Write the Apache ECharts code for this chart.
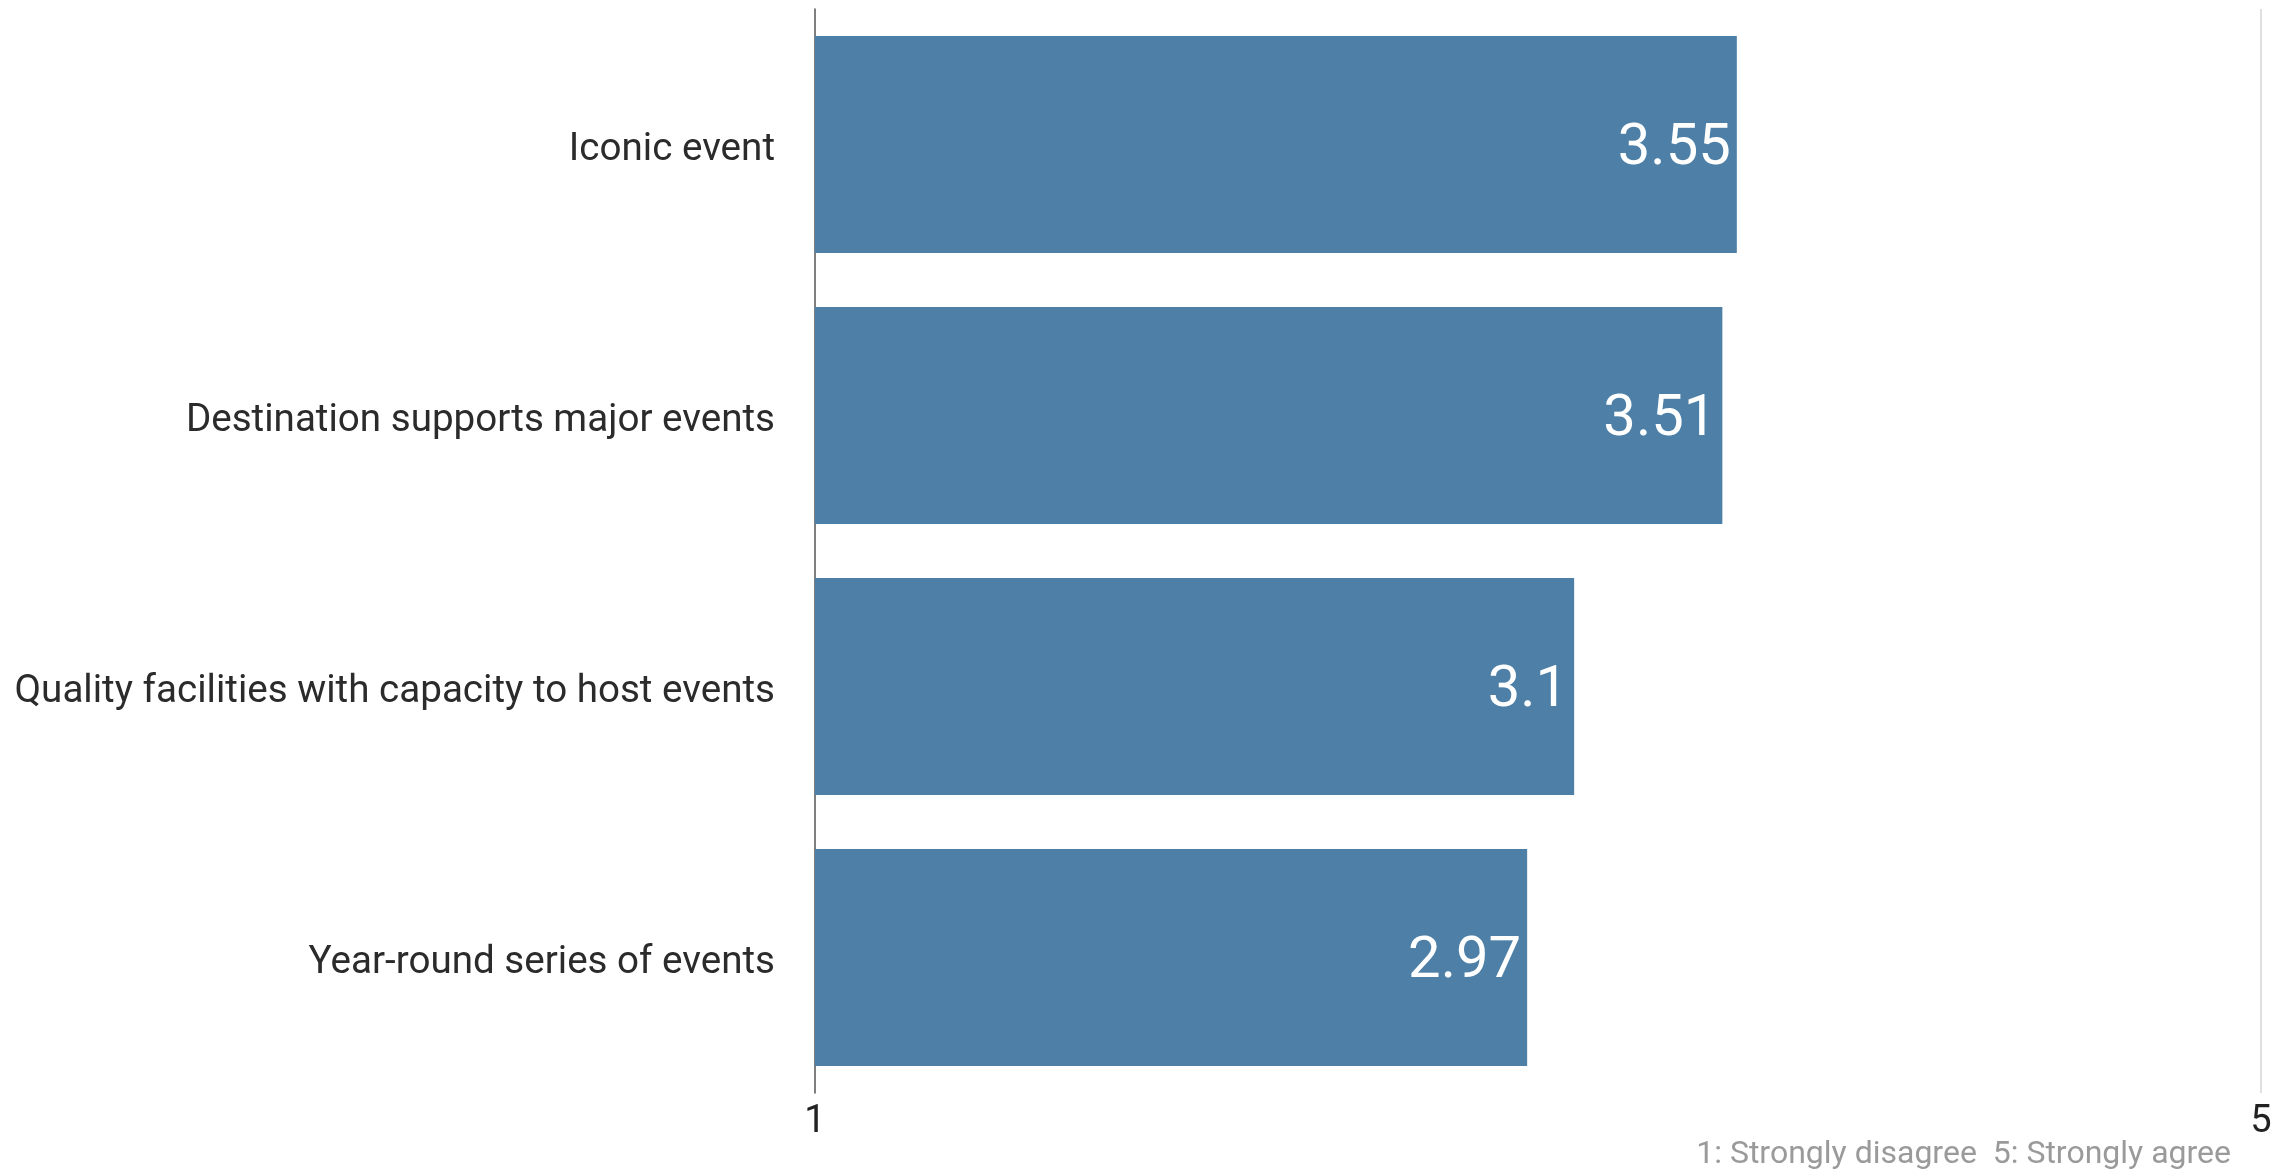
<!DOCTYPE html>
<html>
<head>
<meta charset="utf-8">
<script src="https://cdn.jsdelivr.net/npm/echarts@6/dist/echarts.min.js"></script>
<style>
  html, body { margin: 0; padding: 0; background: #ffffff; }
  #chart { width: 2289px; height: 1169px; }
</style>
</head>
<body>
<div id="chart"></div>
<script>
// Agreement scores (1 = strongly disagree, 5 = strongly agree)
const categories = [
  'Iconic event',
  'Destination supports major events',
  'Quality facilities with capacity to host events',
  'Year-round series of events'
];
const scores = [3.55, 3.51, 3.1, 2.97];
const scaleTickLabels = ['1', '5'];
const scaleNote = '1: Strongly disagree  5: Strongly agree';

const chart = echarts.init(document.getElementById('chart'));

chart.setOption({
  backgroundColor: '#ffffff',
  animation: false,
  textStyle: { fontFamily: 'Roboto' },
  grid: { left: 815, right: 28, top: 9, bottom: 76, containLabel: false },
  xAxis: {
    type: 'value',
    min: 1,
    max: 5,
    interval: 1,
    axisLine: { show: false },
    axisTick: { show: false },
    axisLabel: {
      fontFamily: 'Roboto',
      fontSize: 38,
      color: '#222222',
      margin: 10,
      formatter: v => (scaleTickLabels.indexOf(String(v)) >= 0 ? String(v) : '')
    },
    splitLine: {
      show: true,
      lineStyle: {
        color: ['rgba(0,0,0,0)', 'rgba(0,0,0,0)', 'rgba(0,0,0,0)', 'rgba(0,0,0,0)', '#d4d4d4'],
        width: 1.5
      }
    }
  },
  yAxis: {
    type: 'category',
    data: categories,
    inverse: true,
    axisLine: { show: true, lineStyle: { color: '#555555', width: 1.5 } },
    axisTick: { show: false },
    axisLabel: {
      margin: 40,
      formatter: v => '{cat|' + v + '}',
      rich: {
        cat: {
          fontFamily: 'Roboto',
          fontSize: 38.6,
          color: '#2b2b2b',
          padding: [11, 0, 0, 0]
        }
      }
    }
  },
  series: [{
    type: 'bar',
    data: scores,
    barCategoryGap: '20%',
    itemStyle: { color: '#4e80a7' },
    label: {
      show: true,
      position: 'insideRight',
      distance: 6,
      offset: [0, 5],
      color: '#ffffff',
      fontFamily: 'Roboto',
      fontSize: 58
    }
  }],
  graphic: [{
    type: 'text',
    right: 58,
    top: 1139,
    style: {
      text: scaleNote,
      fontFamily: 'Roboto',
      fontSize: 32,
      fill: '#9a9a9a'
    }
  }]
});
</script>
</body>
</html>
